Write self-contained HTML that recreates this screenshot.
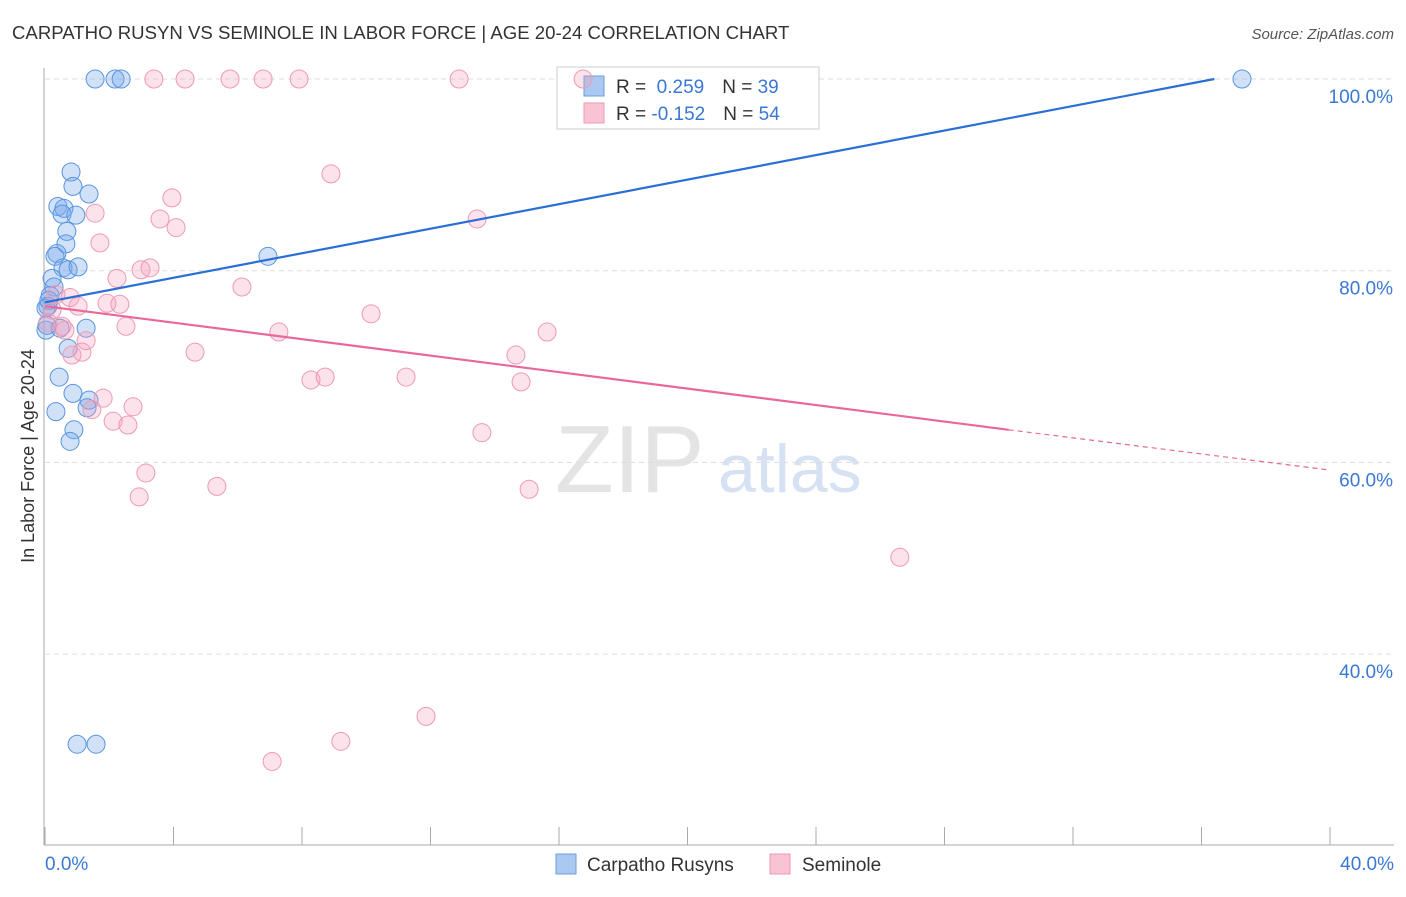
<!DOCTYPE html>
<html><head><meta charset="utf-8"><style>
body{margin:0;background:#fff;font-family:"Liberation Sans",sans-serif;}
svg text{font-family:"Liberation Sans",sans-serif;}
</style></head><body>
<svg id="c" width="1406" height="892" xmlns="http://www.w3.org/2000/svg">
<text x="12" y="39" font-size="18.6" fill="#333">CARPATHO RUSYN VS SEMINOLE IN LABOR FORCE | AGE 20-24 CORRELATION CHART</text>
<text x="1394" y="39" font-size="15" fill="#555" font-style="italic" text-anchor="end">Source: ZipAtlas.com</text>
<text x="34" y="456" font-size="18" fill="#333" text-anchor="middle" transform="rotate(-90 34 456)">In Labor Force | Age 20-24</text>
<text x="555" y="492" font-size="96" fill="#e4e4e4" font-family="Liberation Serif">ZIP</text>
<text x="718" y="492" font-size="68" fill="#d6e2f4">atlas</text>
<g id="grid"></g><g id="axes"></g>
<g>
<rect x="557" y="67" width="262" height="62" fill="#fff" stroke="#ccc"/>
<rect x="584" y="76" width="20" height="20" fill="#aac8f0" stroke="#6a9ee0"/>
<rect x="584" y="103" width="20" height="20" fill="#f8c4d4" stroke="#ee9ab4"/>
<text x="616" y="93" font-size="19" fill="#333">R = <tspan fill="#3a78d6">&#160;0.259</tspan><tspan dx="18">N = </tspan><tspan fill="#3a78d6">39</tspan></text>
<text x="616" y="120" font-size="19" fill="#333">R = <tspan fill="#3a78d6">-0.152</tspan><tspan dx="18">N = </tspan><tspan fill="#3a78d6">54</tspan></text>
</g>
<g id="marks"></g>
<g>
<rect x="556" y="854" width="20" height="20" fill="#aac8f0" stroke="#6a9ee0"/>
<text x="587" y="871" font-size="19" fill="#333">Carpatho Rusyns</text>
<rect x="770" y="854" width="20" height="20" fill="#f8c4d4" stroke="#ee9ab4"/>
<text x="802" y="871" font-size="19" fill="#333">Seminole</text>
</g>
</svg>
<script>
const yTicks=[100,80,60,40];
const xTickLabels=["0.0%","40.0%"];
const blueX=[1.56,2.18,2.37,37.26,0.81,0.87,1.37,0.40,0.59,0.53,0.96,0.68,0.65,0.37,0.31,6.94,0.56,0.72,1.03,0.22,0.28,0.16,0.09,0.03,0.03,0.47,1.28,0.72,0.44,0.87,1.37,1.31,0.34,0.90,0.78,1.00,1.59,0.06,0.12];
const blueY=[100,100,100,100,90.3,88.8,88.0,86.7,86.5,85.9,85.8,84.1,82.8,81.8,81.5,81.5,80.3,80.1,80.4,79.2,78.3,77.4,76.3,76.1,73.8,74.0,74.0,71.9,68.9,67.2,66.5,65.7,65.3,63.4,62.2,30.6,30.6,74.3,76.9];
const pinkX=[3.39,4.36,5.76,6.79,7.91,12.89,16.75,8.90,3.95,1.56,3.58,4.08,13.45,1.71,2.24,2.99,3.27,6.13,0.34,0.78,1.03,1.93,2.33,0.22,10.15,2.52,7.28,15.63,0.53,0.62,1.28,4.67,1.15,0.84,14.66,8.28,8.72,11.24,14.82,1.81,2.74,1.46,2.12,2.58,13.60,3.14,5.35,2.93,15.07,26.61,11.86,9.21,7.07,0.09];
const pinkY=[100,100,100,100,100,100,100,90.1,87.6,86.0,85.4,84.5,85.4,82.9,79.2,80.1,80.3,78.3,77.5,77.2,76.3,76.6,76.5,75.9,75.5,74.2,73.6,73.6,74.2,73.8,72.7,71.5,71.5,71.2,71.2,68.6,68.9,68.9,68.4,66.7,65.8,65.5,64.3,63.9,63.1,58.9,57.5,56.4,57.2,50.1,33.5,30.9,28.8,74.6];
const blueTrend=[76.7,100];const blueTrendX=[0,36.4];
const pinkTrend=[76.3,63.4,59.2];const pinkTrendX=[0,30,40];
const NS="http://www.w3.org/2000/svg";
const X=v=>45+v*32.125, Y=v=>79+(100-v)*9.585;
function mk(t,a,p){const e=document.createElementNS(NS,t);for(const k in a)e.setAttribute(k,a[k]);document.getElementById(p).appendChild(e);return e;}
yTicks.forEach(t=>{
 const l=mk('line',{x1:45,x2:1394,y1:Y(t),y2:Y(t),stroke:'#ddd','stroke-dasharray':'5 4'},'grid');
 
 
 const tx=mk('text',{x:1393,y:Y(t)+24,'font-size':19,fill:'#3a78d6','text-anchor':'end'},'axes');tx.textContent=t.toFixed(1)+'%';
 
 
});
const ax=mk('line',{x1:44,x2:44,y1:68,y2:845,stroke:'#aaa'},'axes');


const bx=mk('line',{x1:44,x2:1394,y1:845,y2:845,stroke:'#aaa'},'axes');


for(let i=0;i<=10;i++){const t=mk('line',{x1:X(i*4),x2:X(i*4),y1:827,y2:845,stroke:'#aaa'},'axes');
 
 }
xTickLabels.forEach((s,i)=>{const t=mk('text',{x:i?1394:45,y:870,'font-size':19,fill:'#3a78d6','text-anchor':i?'end':'start'},'axes');t.textContent=s;
 
 });
blueX.forEach((v,i)=>{const c=mk('circle',{cx:X(v),cy:Y(blueY[i]),r:9,fill:'rgba(120,170,235,0.35)',stroke:'#5a95e0','stroke-width':1},'marks');
 
 });
pinkX.forEach((v,i)=>{const c=mk('circle',{cx:X(v),cy:Y(pinkY[i]),r:9,fill:'rgba(245,160,190,0.3)',stroke:'#ee9ab4','stroke-width':1},'marks');
 
 });
const bl=mk('line',{x1:X(blueTrendX[0]),y1:Y(blueTrend[0]),x2:X(blueTrendX[1]),y2:Y(blueTrend[1]),stroke:'#2a6fd6','stroke-width':2.2},'marks');


const pl=mk('line',{x1:X(pinkTrendX[0]),y1:Y(pinkTrend[0]),x2:X(pinkTrendX[1]),y2:Y(pinkTrend[1]),stroke:'#e8689a','stroke-width':2.2},'marks');


const pd=mk('line',{x1:X(pinkTrendX[1]),y1:Y(pinkTrend[1]),x2:X(pinkTrendX[2]),y2:Y(pinkTrend[2]),stroke:'#e8689a','stroke-width':1.2,'stroke-dasharray':'5 4'},'marks');


</script>
</body></html>
